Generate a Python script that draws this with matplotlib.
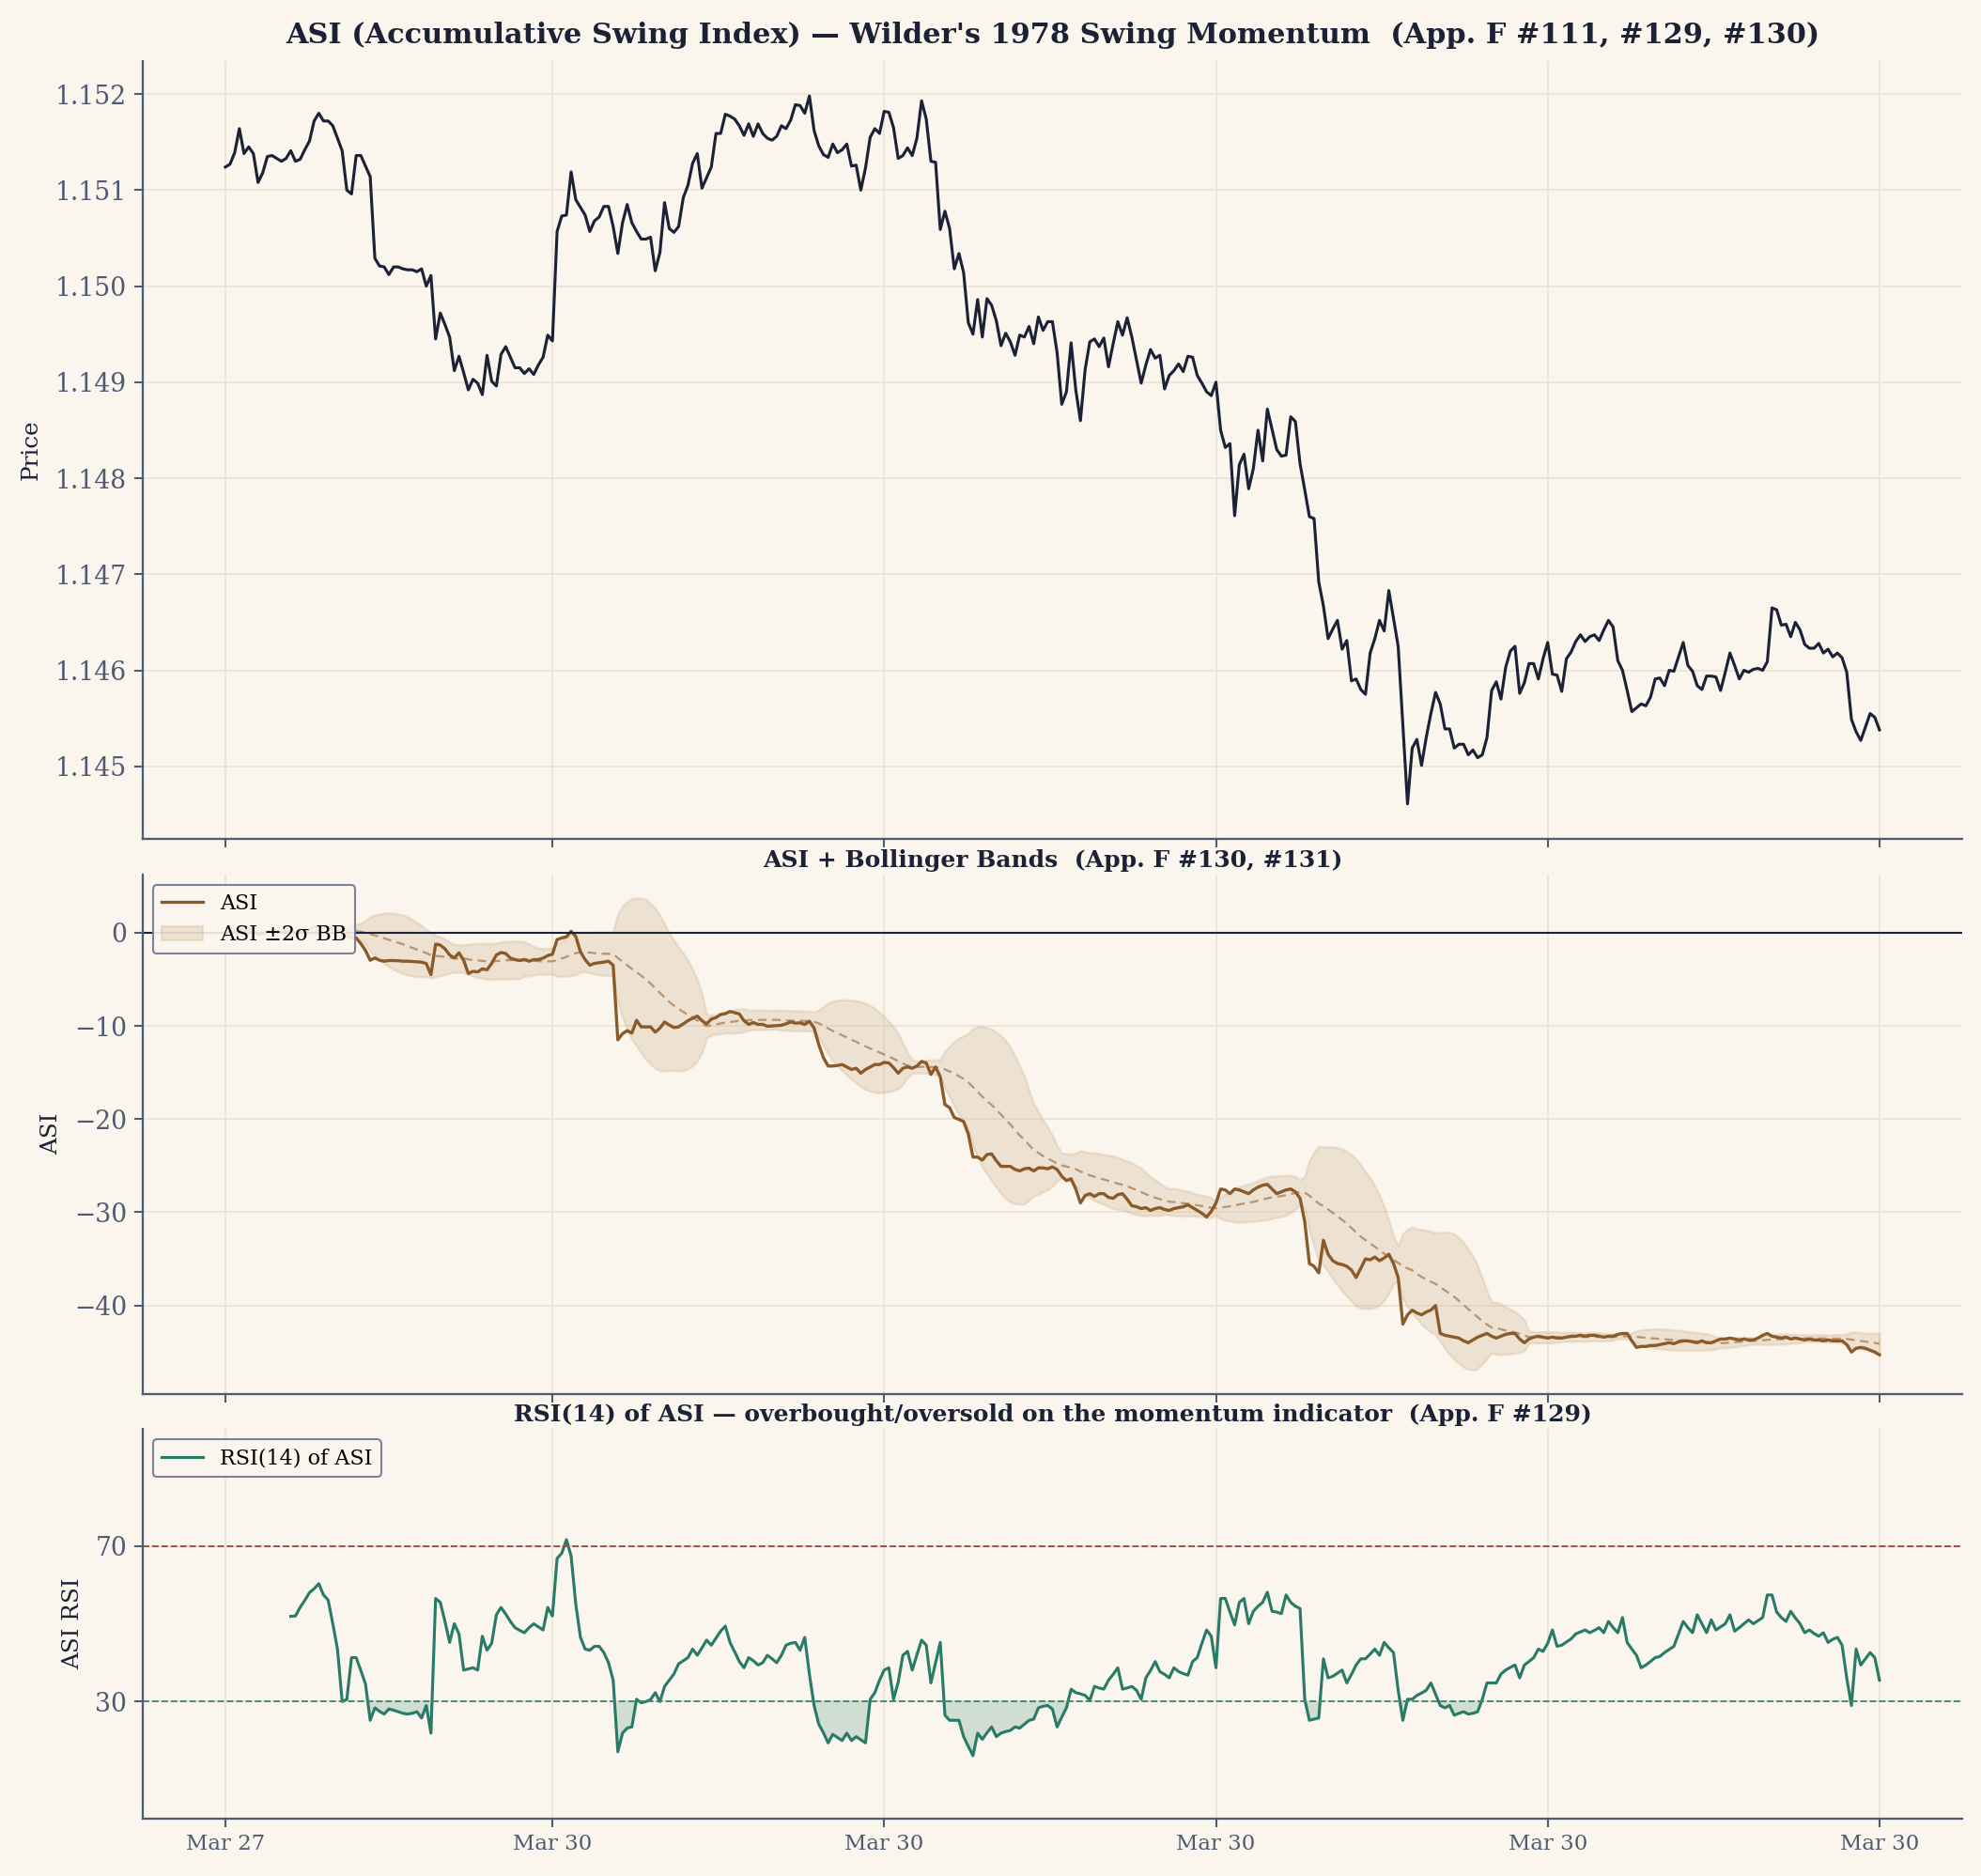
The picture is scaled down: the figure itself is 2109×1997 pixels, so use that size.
import numpy as np
import pandas as pd
import matplotlib
matplotlib.use("Agg")
import matplotlib.pyplot as plt
from matplotlib.patches import Patch
from matplotlib.lines import Line2D
from matplotlib.ticker import FormatStrFormatter

plt.rcParams['font.family'] = ['DejaVu Serif']
plt.rcParams['axes.unicode_minus'] = True

# ---------------- data ----------------
price = [
    1.15124, 1.15127, 1.15139, 1.15164, 1.15138, 1.15145, 1.15138, 1.15108, 1.15118, 1.15135,
    1.15136, 1.15133, 1.15130, 1.15133, 1.15141, 1.15130, 1.15132, 1.15142, 1.15151, 1.15172,
    1.15180, 1.15172, 1.15172, 1.15167, 1.15154, 1.15141, 1.15100, 1.15096, 1.15136, 1.15136,
    1.15125, 1.15114, 1.15029, 1.15021, 1.15020, 1.15012, 1.15020, 1.15020, 1.15018, 1.15017,
    1.15017, 1.15015, 1.15018, 1.15000, 1.15011, 1.14945, 1.14972, 1.14960, 1.14947, 1.14912,
    1.14927, 1.14910, 1.14892, 1.14903, 1.14899, 1.14887, 1.14928, 1.14901, 1.14896, 1.14929,
    1.14937, 1.14926, 1.14915, 1.14915, 1.14909, 1.14914, 1.14908, 1.14918, 1.14926, 1.14949,
    1.14943,
    1.15057, 1.15073, 1.15074, 1.15119, 1.15090, 1.15082, 1.15074, 1.15057, 1.15068, 1.15072,
    1.15083, 1.15083, 1.15062, 1.15034, 1.15066, 1.15085, 1.15066, 1.15057,
    1.15049, 1.15049, 1.15051, 1.15016, 1.15035, 1.15087, 1.15060, 1.15056, 1.15062, 1.15092,
    1.15105, 1.15128, 1.15138, 1.15102, 1.15113, 1.15124, 1.15159, 1.15159, 1.15179, 1.15177,
    1.15174, 1.15167, 1.15157, 1.15169, 1.15156, 1.15169, 1.15159, 1.15154, 1.15152, 1.15156,
    1.15167, 1.15164, 1.15173, 1.15189, 1.15188, 1.15180, 1.15198, 1.15162, 1.15146, 1.15137,
    1.15134, 1.15148, 1.15139, 1.15142, 1.15148, 1.15125, 1.15126, 1.15100, 1.15123, 1.15155,
    1.15164, 1.15159,
    1.15182, 1.15181, 1.15165, 1.15133, 1.15136, 1.15144, 1.15136, 1.15154, 1.15193, 1.15174,
    1.15130, 1.15129, 1.15059, 1.15078, 1.15060, 1.15018, 1.15034, 1.15014, 1.14962, 1.14950,
    1.14986, 1.14947, 1.14987, 1.14980, 1.14964, 1.14938, 1.14951, 1.14942, 1.14928, 1.14949,
    1.14947, 1.14958, 1.14940, 1.14968, 1.14954, 1.14963,
    1.14963, 1.14931, 1.14877, 1.14890, 1.14941, 1.14892, 1.14860, 1.14913, 1.14942, 1.14945,
    1.14937, 1.14946, 1.14916, 1.14940, 1.14963, 1.14949, 1.14967, 1.14947, 1.14923, 1.14899,
    1.14918, 1.14934, 1.14925, 1.14928, 1.14893, 1.14907, 1.14912, 1.14919, 1.14911, 1.14927,
    1.14926, 1.14907, 1.14899, 1.14890, 1.14886, 1.14900,
    1.14850,
    1.14832, 1.14836, 1.14761, 1.14814, 1.14825, 1.14789, 1.14810, 1.14850, 1.14818, 1.14872,
    1.14851, 1.14830, 1.14823, 1.14824, 1.14864, 1.14859, 1.14815, 1.14788, 1.14760, 1.14758,
    1.14692, 1.14667, 1.14633, 1.14643, 1.14652, 1.14622, 1.14631, 1.14589, 1.14591, 1.14580,
    1.14575, 1.14618, 1.14633, 1.14652, 1.14641, 1.14683, 1.14654, 1.14625, 1.14543, 1.14461,
    1.14519, 1.14528, 1.14501, 1.14530, 1.14555, 1.14577, 1.14565, 1.14539, 1.14539, 1.14519,
    1.14523, 1.14523, 1.14512, 1.14517, 1.14509, 1.14512, 1.14530, 1.14579, 1.14588, 1.14570,
    1.14603, 1.14620, 1.14625, 1.14576, 1.14587, 1.14607, 1.14607, 1.14591, 1.14612, 1.14629,
    1.14596, 1.14595, 1.14578, 1.14612, 1.14619, 1.14630, 1.14637, 1.14630, 1.14635, 1.14637,
    1.14631, 1.14642, 1.14652, 1.14645, 1.14610, 1.14600, 1.14579, 1.14557, 1.14561, 1.14565,
    1.14563, 1.14572, 1.14591, 1.14592, 1.14584, 1.14600, 1.14599, 1.14614, 1.14629, 1.14605,
    1.14599, 1.14584, 1.14580, 1.14594, 1.14594, 1.14593, 1.14579, 1.14598, 1.14618, 1.14605,
    1.14591, 1.14600, 1.14598, 1.14601, 1.14602, 1.14600, 1.14609, 1.14665, 1.14663, 1.14647,
    1.14648, 1.14635, 1.14650, 1.14642, 1.14627, 1.14623, 1.14623, 1.14628, 1.14618, 1.14622,
    1.14614, 1.14618, 1.14613, 1.14598, 1.14549, 1.14536, 1.14527, 1.14541, 1.14555, 1.14551,
    1.14538,
]

asi_values = [
    0.0, 0.05, 0.15, 0.45, 0.2, 0.3, 0.2, -0.2, -0.1, 0.15,
    0.2, 0.15, 0.1, 0.15, 0.25, 0.1, 0.15, 0.25, 0.35, 0.6,
    0.7, 0.6, 0.6, 0.5, 0.3, 0.1, -0.4, -0.5,
    -0.56, -1.16, -1.9, -2.95, -2.7, -2.95, -3.05, -2.98, -2.98, -3.0,
    -3.05, -3.05, -3.08, -3.1, -3.15, -3.3, -4.5, -1.22, -1.32, -1.72,
    -2.38, -2.7, -2.15, -2.95, -4.37, -4.14, -4.2, -3.87, -3.97, -3.28,
    -2.38, -2.12, -2.22, -2.72, -2.88, -2.98, -2.88, -3.05, -2.88, -2.88,
    -2.72, -2.45, -2.3, -0.73, -0.56, -0.43, 0.17, -0.4, -2.05, -2.88,
    -3.48, -3.28, -3.21, -3.15, -3.05, -3.48, -11.49, -10.83, -10.5, -10.76,
    -9.4, -10.1, -10.1, -10.1, -10.66, -10.23, -9.57, -9.9, -10.17, -10.1,
    -9.77, -9.44, -9.17, -8.94, -9.44, -9.77, -9.27, -9.1, -8.77, -8.68,
    -8.44, -8.58, -8.71, -9.44, -9.83, -9.64, -9.83, -9.83, -10.03, -10.0,
    -9.97, -9.93, -9.77, -9.57, -9.7, -9.67, -9.83, -9.5, -10.23, -11.99,
    -13.41, -14.3, -14.3, -14.24, -14.14, -14.4, -14.67, -14.54, -15.07, -14.67,
    -14.4, -14.14, -14.14, -13.91, -13.97, -14.47, -15.07, -14.54, -14.4, -14.54,
    -14.3, -13.81, -13.97, -15.2, -14.4, -15.46, -18.44, -18.77, -19.83, -20.03,
    -20.26, -21.59, -24.07, -24.07, -24.4, -23.8, -23.74, -24.47, -25.07, -25.07,
    -25.07, -25.4, -25.56, -25.33, -25.26, -25.56, -25.23, -25.23, -25.33, -25.13,
    -25.4, -26.13,
    -26.6, -26.4, -27.5, -29.0, -28.2, -28.0, -28.3, -28.0, -28.0, -28.4,
    -28.5, -28.1, -28.0, -28.6, -29.3, -29.4, -29.6, -29.5, -29.8, -29.6,
    -29.5, -29.7, -29.8, -29.6, -29.5, -29.4, -29.2, -29.5, -29.8, -30.1,
    -30.5, -29.9, -29.0, -27.5, -27.6, -28.0, -27.5, -27.6, -27.8, -28.0,
    -27.6, -27.3, -27.1, -27.0, -27.5, -28.0, -27.8, -27.6, -27.5, -27.8,
    -28.5, -31.0, -35.5, -35.8, -36.5, -33.0, -34.5, -35.2, -35.5, -35.6,
    -35.8, -36.2, -37.0, -36.0, -35.0, -35.1, -34.8, -35.2, -34.9, -34.5,
    -35.5, -37.0, -42.0, -41.0, -40.5, -40.8, -41.0, -40.7, -40.5, -40.0,
    -43.0, -43.2, -43.3, -43.4, -43.5, -43.8, -44.0, -43.7, -43.4, -43.2,
    -43.0, -43.3, -43.5, -43.3, -43.1, -43.0, -43.0, -43.6, -44.0, -43.6,
    -43.4, -43.3, -43.4, -43.5, -43.4, -43.5, -43.5, -43.4, -43.3, -43.3,
    -43.2, -43.3, -43.2, -43.2, -43.3, -43.4, -43.3, -43.3, -43.1, -43.0,
    -43.0, -43.8, -44.5, -44.4, -44.4, -44.3, -44.3, -44.2, -44.1, -44.0,
    -44.1, -43.9, -43.8, -43.8, -43.9, -44.0, -43.8, -44.0, -44.0, -43.8,
    -43.6, -43.6, -43.5, -43.6, -43.7, -43.6, -43.7, -43.7, -43.5, -43.2,
    -43.0, -43.3, -43.4, -43.5, -43.4, -43.6, -43.5, -43.6, -43.7, -43.6,
    -43.7, -43.7, -43.8, -43.7, -43.8, -43.8, -43.8, -44.2, -45.0, -44.6,
    -44.5, -44.6, -44.8, -45.0, -45.3,
]

# RSI(14) of ASI, first value at bar 14
rsi_values = [
    51.9, 52.0, 54.2, 56.0, 58.0, 59.0, 60.3, 57.4, 56.1, 50.0,
    43.5, 30.0, 30.6, 41.3, 41.3, 38.0, 34.5, 25.2, 28.4, 27.5,
    26.8, 28.1, 27.8, 27.4, 27.0, 26.8, 27.0, 27.4, 25.8, 29.0,
    21.9, 56.5, 55.5, 50.6, 45.2, 50.0, 47.4, 38.1, 38.4, 38.7,
    38.1, 46.8, 43.2, 45.0, 52.3, 54.2, 52.5, 50.6, 49.0, 48.3,
    47.7, 49.0, 50.0, 49.2, 48.4, 54.2, 52.0, 66.8, 68.1, 71.6,
    67.4, 55.0, 46.5, 43.5, 43.2, 44.2, 44.2, 42.6, 40.0, 35.5,
    17.1, 21.9, 23.2, 23.5, 30.6, 29.7, 30.0, 30.5, 32.3, 30.0,
    33.9, 35.5, 37.1, 39.7, 40.5, 41.3, 43.5, 41.9, 43.8, 45.8,
    44.5, 46.3, 48.1, 49.4, 45.2, 42.8, 40.3, 38.7, 41.3, 40.5,
    39.4, 40.0, 41.9, 41.0, 40.0, 41.9, 44.5, 45.0, 45.2, 43.2,
    46.5, 37.0, 29.0, 24.2, 22.0, 19.4, 21.6, 20.8, 20.0, 21.9,
    20.0, 21.0, 20.2, 19.4, 30.6, 32.3, 35.5, 38.1, 38.7, 30.6,
    35.0, 41.9, 42.9, 38.1, 42.0, 45.8, 44.5, 34.8, 40.0, 45.2,
    26.5, 25.2, 25.2, 25.2, 21.0, 18.5, 16.1, 21.9, 20.3, 22.0,
    23.5, 21.0, 21.9, 22.3, 22.6, 23.5, 23.2, 24.2, 25.2, 25.5,
    28.4, 28.8, 29.0, 28.1, 23.5, 26.0, 28.4, 33.2, 32.3, 32.0,
    31.6, 30.3, 33.9, 33.5, 33.2, 35.5, 37.0, 38.7, 33.2, 33.5,
    33.9, 32.9, 30.6, 36.1, 38.0, 40.3, 37.7, 37.0, 36.1, 38.7,
    37.7, 37.2, 36.8, 40.3, 41.3, 45.0, 48.4, 46.8, 38.7, 56.5,
    56.5, 53.0, 49.7, 55.5, 56.5, 50.0, 53.2, 54.5, 55.5, 58.1,
    53.2, 53.0, 52.6, 57.4, 55.5, 54.5, 53.9, 30.6, 25.2, 25.5,
    25.8, 41.0, 36.1, 36.5, 37.3, 38.1, 34.8, 37.0, 39.4, 41.0,
    41.0, 42.2, 43.5, 41.9, 45.2, 43.8, 42.6, 32.9, 25.2, 30.6,
    30.6, 31.6, 32.2, 32.9, 34.8, 31.9, 29.0, 28.4, 29.0, 26.5,
    27.0, 27.4, 26.8, 27.0, 27.4, 30.6, 34.8, 34.8, 34.8, 37.1,
    38.1, 38.8, 39.4, 36.1, 39.4, 40.3, 41.3, 43.5, 42.9, 45.0,
    48.4, 44.2, 44.5, 45.3, 46.1, 47.4, 47.9, 48.4, 47.7, 48.3,
    49.0, 47.7, 50.6, 49.0, 47.7, 51.6, 45.2, 43.5, 41.9, 38.7,
    39.4, 40.3, 41.3, 41.6, 42.6, 43.4, 44.2, 47.4, 50.6, 49.0,
    47.7, 52.3, 50.0, 47.7, 51.0, 48.4, 49.2, 50.0, 52.3, 48.1,
    49.0, 50.0, 51.0, 50.0, 50.8, 51.6, 57.4, 57.4, 53.0, 51.6,
    50.6, 53.2, 51.5, 50.0, 47.7, 48.4, 47.5, 46.8, 47.7, 45.2,
    46.0, 46.5, 44.5, 36.0, 29.0, 43.5, 39.4, 41.0, 42.6, 41.3,
    35.5,
]

tick_bars = [0, 70, 141, 212, 283, 354]
tick_labels = ["Mar 27", "Mar 30", "Mar 30", "Mar 30", "Mar 30", "Mar 30"]

BB_WINDOW = 20
RSI_START = 14

# ---------------- style ----------------
BG = "#faf6ee"
NAVY = "#1b2236"
SLATE = "#4f5a73"
GRID = "#ebe3d4"
BROWN = "#8a5a2b"
TAN = "#c9a882"
TEAL = "#2a7a68"

n = len(price)
x = np.arange(n)
asi = pd.Series(asi_values[:n], index=np.arange(len(asi_values[:n])))
mid = asi.rolling(BB_WINDOW).mean()
sd = asi.rolling(BB_WINDOW).std()
rsi = pd.Series([np.nan] * RSI_START + rsi_values, index=np.arange(RSI_START + len(rsi_values)))

fig = plt.figure(figsize=(2109 / 150, 1997 / 150), dpi=150, facecolor=BG)
gs = fig.add_gridspec(3, 1, height_ratios=[3, 2, 1.5], hspace=0.063,
                      left=0.072, right=0.9905, top=0.9677, bottom=0.0307)
ax1 = fig.add_subplot(gs[0])
ax2 = fig.add_subplot(gs[1], sharex=ax1)
ax3 = fig.add_subplot(gs[2], sharex=ax1)

for ax in (ax1, ax2, ax3):
    ax.set_facecolor(BG)
    for s in ("top", "right"):
        ax.spines[s].set_visible(False)
    for s in ("left", "bottom"):
        ax.spines[s].set_color(SLATE)
        ax.spines[s].set_linewidth(1.1)
    ax.grid(True, color=GRID, linewidth=0.8)
    ax.set_axisbelow(True)
    ax.tick_params(colors=SLATE, labelsize=12.8, length=4.5, width=1)

ax1.plot(x, price, color=NAVY, lw=1.5)
ax1.set_ylabel("Price", color=NAVY, fontsize=11.8, labelpad=7)
ax1.set_title("ASI (Accumulative Swing Index) — Wilder's 1978 Swing Momentum  (App. F #111, #129, #130)",
              fontsize=14.6, fontweight="bold", color=NAVY, pad=9)
ax1.yaxis.set_major_formatter(FormatStrFormatter("%.3f"))

ax2.fill_between(asi.index, mid - 2 * sd, mid + 2 * sd, facecolor=TAN, alpha=0.25,
                 edgecolor=TAN, lw=1.2)
ax2.plot(asi.index, mid, color="#b99672", lw=1.1, ls=(0, (4, 2.5)))
ax2.plot(asi.index, asi.values, color=BROWN, lw=1.6)
ax2.axhline(0, color=NAVY, lw=1)
ax2.set_ylabel("ASI", color=NAVY, fontsize=11.8, labelpad=6)
ax2.set_title("ASI + Bollinger Bands  (App. F #130, #131)", fontsize=12, fontweight="bold",
              color=NAVY, pad=4)
ax2.legend(handles=[Line2D([], [], color=BROWN, lw=1.6, label="ASI"),
                    Patch(facecolor=TAN, alpha=0.25, edgecolor=TAN, label="ASI ±2σ BB")],
           loc="upper left", fontsize=10.7, frameon=True, facecolor=BG, edgecolor="#6b7890",
           framealpha=0.9)

ax3.plot(rsi.index, rsi.values, color=TEAL, lw=1.5, label="RSI(14) of ASI")
ax3.axhline(70, color="#9c4a45", lw=0.9, ls="--")
ax3.axhline(30, color="#3a8a70", lw=0.9, ls="--")
rv = rsi.values
ax3.fill_between(rsi.index, rv, 30, where=rv < 30, interpolate=True, color=TEAL, alpha=0.2, lw=0)
ax3.set_ylim(0, 100)
ax3.set_yticks([30, 70])
ax3.set_ylabel("ASI RSI", color=NAVY, fontsize=11.8, labelpad=6)
ax3.set_title("RSI(14) of ASI — overbought/oversold on the momentum indicator  (App. F #129)",
              fontsize=12, fontweight="bold", color=NAVY, pad=4)
ax3.legend(loc="upper left", fontsize=10.7, frameon=True, facecolor=BG, edgecolor="#6b7890",
           framealpha=0.9)

ax3.set_xticks(tick_bars)
ax3.set_xticklabels(tick_labels)
ax3.tick_params(axis="x", labelsize=11)
plt.setp(ax1.get_xticklabels(), visible=False)
plt.setp(ax2.get_xticklabels(), visible=False)

fig.savefig("out.png", dpi=150, facecolor=BG)
